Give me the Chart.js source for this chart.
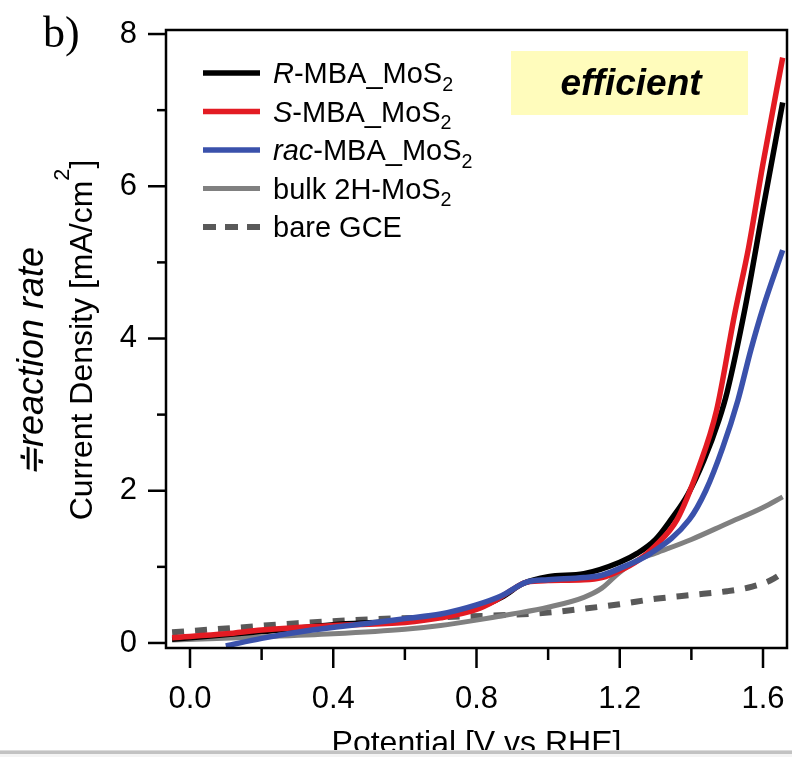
<!DOCTYPE html>
<html>
<head>
<meta charset="utf-8">
<script src="https://cdn.jsdelivr.net/npm/chart.js@4.4.1/dist/chart.umd.min.js"></script>
<style>
html,body{margin:0;padding:0;background:#fff;}
#wrap{width:792px;height:757px;position:relative;}
</style>
</head>
<body>
<div id="wrap"><canvas id="c" width="792" height="757"></canvas></div>
<script>
// ---- data ----
const rPotential = [-0.05, 0.2, 0.4, 0.6, 0.8, 0.87, 0.93, 1.0, 1.1, 1.2, 1.25, 1.3, 1.343, 1.39, 1.435, 1.477, 1.5, 1.55, 1.6, 1.655];
const rCurrent   = [0.05, 0.15, 0.24, 0.30, 0.46, 0.60, 0.78, 0.87, 0.91, 1.06, 1.18, 1.36, 1.62, 1.95, 2.40, 2.93, 3.30, 4.40, 5.70, 7.10];

const sPotential = [-0.05, 0.1, 0.2, 0.4, 0.6, 0.7, 0.8, 0.85, 0.9, 0.94, 1.0, 1.1, 1.15, 1.2, 1.25, 1.3, 1.36, 1.42, 1.47, 1.52, 1.56, 1.6, 1.655];
const sCurrent   = [0.07, 0.12, 0.17, 0.23, 0.27, 0.33, 0.44, 0.55, 0.70, 0.80, 0.82, 0.83, 0.86, 0.95, 1.08, 1.28, 1.62, 2.30, 3.05, 4.30, 5.20, 6.30, 7.69];

const racPotential = [0.1, 0.2, 0.34, 0.5, 0.6, 0.7, 0.8, 0.87, 0.94, 1.0, 1.1, 1.15, 1.2, 1.287, 1.394, 1.44, 1.487, 1.53, 1.566, 1.6, 1.655];
const racCurrent   = [-0.04, 0.06, 0.17, 0.26, 0.32, 0.38, 0.50, 0.62, 0.80, 0.83, 0.86, 0.89, 0.98, 1.18, 1.62, 2.00, 2.56, 3.19, 3.85, 4.40, 5.16];

const bulkPotential = [-0.05, 0.2, 0.4, 0.6, 0.7, 0.8, 0.9, 1.0, 1.1, 1.15, 1.2, 1.25, 1.3, 1.4, 1.5, 1.6, 1.655];
const bulkCurrent   = [0.04, 0.08, 0.12, 0.18, 0.23, 0.30, 0.38, 0.47, 0.60, 0.72, 0.93, 1.09, 1.18, 1.36, 1.57, 1.78, 1.92];

const gcePotential = [-0.05, 0.1, 0.3, 0.5, 0.7, 0.9, 1.0, 1.1, 1.2, 1.3, 1.4, 1.5, 1.57, 1.62, 1.655];
const gceCurrent   = [0.14, 0.19, 0.26, 0.31, 0.34, 0.37, 0.40, 0.45, 0.51, 0.58, 0.63, 0.68, 0.74, 0.82, 0.92];

const xMajorTicks = [0.0, 0.4, 0.8, 1.2, 1.6];
const xMinorTicks = [0.2, 0.6, 1.0, 1.4];
const yMajorTicks = [0, 2, 4, 6, 8];
const yMinorTicks = [1, 3, 5, 7];

const legendLabels = [
  [{t:'R', i:true}, {t:'-MBA_MoS'}, {t:'2', sub:true}],
  [{t:'S', i:true}, {t:'-MBA_MoS'}, {t:'2', sub:true}],
  [{t:'rac', i:true}, {t:'-MBA_MoS'}, {t:'2', sub:true}],
  [{t:'bulk 2H-MoS'}, {t:'2', sub:true}],
  [{t:'bare GCE'}]
];
const xTitle = 'Potential [V vs RHE]';
const yTitle = [{t:'Current Density [mA/cm'}, {t:'2', sup:true}, {t:']'}];
const sideNote = '≑reaction rate';
const panelLabel = 'b)';
const boxText = 'efficient';

// ---- chart ----
const FONT = '"Liberation Sans", Arial, Helvetica, sans-serif';
function pts(xs, ys){ return xs.map((v,i)=>({x:v, y:ys[i]})); }

const styles = [
  {color:'#000000', width:5.5, dash:[]},
  {color:'#e31b23', width:5.5, dash:[]},
  {color:'#3a51ab', width:5.5, dash:[]},
  {color:'#808080', width:5, dash:[]},
  {color:'#595959', width:6, dash:[12,11]}
];

const datasets = [
  {label:'R-MBA_MoS2', data:pts(rPotential, rCurrent), order:3},
  {label:'S-MBA_MoS2', data:pts(sPotential, sCurrent), order:2},
  {label:'rac-MBA_MoS2', data:pts(racPotential, racCurrent), order:1},
  {label:'bulk 2H-MoS2', data:pts(bulkPotential, bulkCurrent), order:4},
  {label:'bare GCE', data:pts(gcePotential, gceCurrent), order:5}
].map((d,i)=>Object.assign(d, {
  borderColor: styles[i].color,
  backgroundColor: styles[i].color,
  borderWidth: styles[i].width,
  borderDash: styles[i].dash,
  pointRadius: 0,
  fill: false,
  cubicInterpolationMode: 'monotone',
  borderCapStyle: 'butt',
  borderJoinStyle: 'round'
}));

function richWidth(ctx, parts, size){
  let w = 0;
  parts.forEach(p=>{
    const s = (p.sub||p.sup) ? size*0.68 : size;
    ctx.font = (p.i?'italic ':'') + s + 'px ' + FONT;
    w += ctx.measureText(p.t).width;
  });
  return w;
}
function drawRich(ctx, parts, x, y, size){
  parts.forEach(p=>{
    const s = (p.sub||p.sup) ? size*0.68 : size;
    ctx.font = (p.i?'italic ':'') + s + 'px ' + FONT;
    let dy = 0;
    if (p.sub) dy = size*0.26;
    if (p.sup) dy = -size*0.72;
    ctx.fillText(p.t, x, y+dy);
    x += ctx.measureText(p.t).width;
  });
  return x;
}

const overlay = {
  id:'overlay',
  afterDraw(chart){
    const ctx = chart.ctx, a = chart.chartArea;
    const xs = chart.scales.x, ys = chart.scales.y;
    ctx.save();
    ctx.fillStyle = '#000'; ctx.strokeStyle = '#000';
    // frame
    ctx.lineWidth = 2.5;
    ctx.strokeRect(a.left, a.top, a.right-a.left, a.bottom-a.top);
    // ticks
    const tick = (x1,y1,x2,y2)=>{ctx.beginPath();ctx.moveTo(x1,y1);ctx.lineTo(x2,y2);ctx.stroke();};
    xMajorTicks.forEach(v=>{const p=xs.getPixelForValue(v); tick(p,a.bottom,p,a.bottom+20);});
    xMinorTicks.forEach(v=>{const p=xs.getPixelForValue(v); tick(p,a.bottom,p,a.bottom+12);});
    yMajorTicks.forEach(v=>{const p=ys.getPixelForValue(v); tick(a.left,p,a.left-18,p);});
    yMinorTicks.forEach(v=>{const p=ys.getPixelForValue(v); tick(a.left,p,a.left-9,p);});

    // legend
    const ly = [73, 111.5, 150, 188.5, 227];
    ctx.textBaseline = 'alphabetic'; ctx.textAlign = 'left';
    datasets.forEach((d,i)=>{
      ctx.beginPath();
      ctx.lineWidth = styles[i].width;
      ctx.strokeStyle = styles[i].color;
      ctx.setLineDash(i===4 ? [13,9] : []);
      ctx.moveTo(203, ly[i]); ctx.lineTo(260, ly[i]); ctx.stroke();
      ctx.setLineDash([]);
      ctx.fillStyle = '#000';
      drawRich(ctx, legendLabels[i], 273, ly[i]+10, 29);
    });

    // efficient box
    ctx.fillStyle = '#fffcbc';
    ctx.fillRect(511, 51, 237, 64);
    ctx.fillStyle = '#000';
    ctx.font = 'italic bold 37px ' + FONT;
    ctx.textAlign = 'center';
    ctx.fillText(boxText, 631, 95);

    // panel label
    ctx.font = '44px "Liberation Serif", "Times New Roman", serif';
    ctx.textAlign = 'left';
    ctx.fillText(panelLabel, 43, 47);

    // y title (rotated, with superscript)
    ctx.save();
    ctx.translate(92, 340);
    ctx.rotate(-Math.PI/2);
    ctx.textAlign = 'left';
    const w = richWidth(ctx, yTitle, 32);
    drawRich(ctx, yTitle, -w/2, 0, 32);
    ctx.restore();

    // side note
    ctx.save();
    ctx.translate(43, 362);
    ctx.rotate(-Math.PI/2);
    ctx.textAlign = 'center';
    ctx.font = 'italic 36px ' + FONT;
    ctx.fillText(sideNote, 0, 0);
    ctx.restore();

    // x title
    ctx.textAlign = 'center';
    ctx.font = '32px ' + FONT;
    ctx.fillText(xTitle, (a.left+a.right)/2, 753);

    // bottom border strip
    ctx.fillStyle = '#f4f4f4';
    ctx.fillRect(0, 750, 792, 7);
    ctx.fillStyle = '#c2c2c2';
    ctx.fillRect(0, 750.5, 792, 3.5);
    ctx.restore();
  }
};

new Chart(document.getElementById('c'), {
  type:'line',
  data:{datasets},
  plugins:[overlay],
  options:{
    responsive:false,
    devicePixelRatio:1,
    animation:false,
    layout:{padding:{left:0, right:5, top:30, bottom:0}},
    plugins:{legend:{display:false}, tooltip:{enabled:false}},
    scales:{
      x:{
        type:'linear', min:-0.067, max:1.667,
        afterBuildTicks:s=>{s.ticks = xMajorTicks.map(v=>({value:v}));},
        afterFit:s=>{s.height = 109; s.paddingLeft = 0; s.paddingRight = 0;},
        grid:{display:false, drawTicks:false},
        border:{display:false},
        ticks:{color:'#000', padding:33, maxRotation:0, autoSkip:false, includeBounds:false,
               font:{family:FONT, size:31}, callback:v=>Number(v).toFixed(1)}
      },
      y:{
        type:'linear', min:-0.066, max:8.053,
        afterBuildTicks:s=>{s.ticks = yMajorTicks.map(v=>({value:v}));},
        afterFit:s=>{s.width = 166; s.paddingTop = 0; s.paddingBottom = 0;},
        grid:{display:false, drawTicks:false},
        border:{display:false},
        ticks:{color:'#000', padding:29, autoSkip:false, includeBounds:false,
               font:{family:FONT, size:31}, callback:v=>String(v)}
      }
    }
  }
});
</script>
</body>
</html>
